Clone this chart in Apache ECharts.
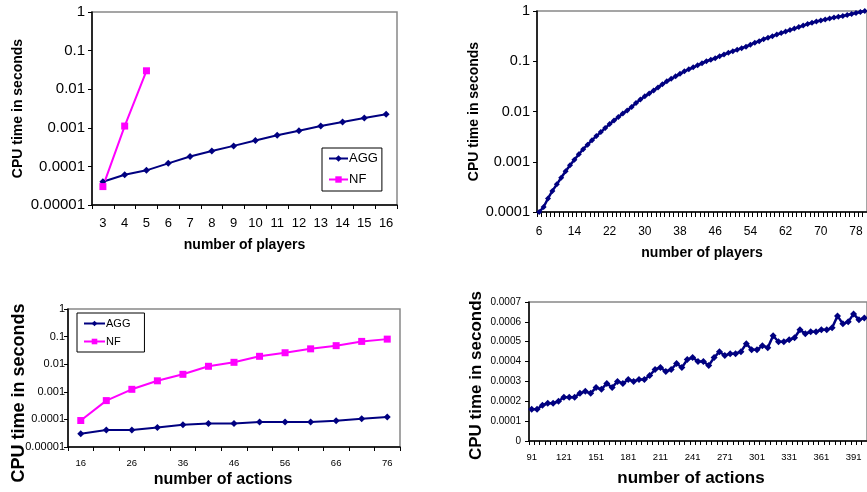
<!DOCTYPE html>
<html><head><meta charset="utf-8">
<script src="https://cdn.jsdelivr.net/npm/echarts@6/dist/echarts.min.js"></script>
<style>html,body{margin:0;padding:0;background:#fff}#c{width:867px;height:492px}</style>
</head><body><div id="c"></div>
<script>
// Panel 1: number of players (small)
const players1 = ['3','4','5','6','7','8','9','10','11','12','13','14','15','16'];
const agg1 = [0.00004,0.000061,0.000079,0.00012,0.00018,0.00025,0.00034,0.00047,0.00064,0.00084,0.00111,0.00141,0.00179,0.00224];
const nf1 = [0.00003,0.00111,0.03,null,null,null,null,null,null,null,null,null,null,null];

// Panel 2: number of players (large)
const players2 = ['6','7','8','9','10','11','12','13','14','15','16','17','18','19','20','21','22','23','24','25','26','27','28','29','30','31','32','33','34','35','36','37','38','39','40','41','42','43','44','45','46','47','48','49','50','51','52','53','54','55','56','57','58','59','60','61','62','63','64','65','66','67','68','69','70','71','72','73','74','75','76','77','78','79','80'];
const agg2 = [0.0001,0.000126,0.000186,0.000263,0.000355,0.000479,0.000646,0.000851,0.0011,0.00141,0.00178,0.00219,0.00269,0.00324,0.00389,0.00468,0.00562,0.00661,0.00776,0.00912,0.0105,0.0123,0.0148,0.0174,0.02,0.0229,0.0263,0.0302,0.0347,0.0398,0.0447,0.0501,0.0562,0.0631,0.0692,0.0759,0.0832,0.0912,0.1,0.107,0.115,0.126,0.136,0.148,0.158,0.17,0.182,0.195,0.214,0.234,0.251,0.275,0.295,0.316,0.339,0.363,0.389,0.417,0.447,0.479,0.513,0.55,0.582,0.617,0.646,0.676,0.708,0.741,0.767,0.794,0.832,0.871,0.912,0.955,1.0];

// Panel 3: number of actions (small)
const actions3 = ['16','21','26','31','36','41','46','51','56','61','66','71','76'];
const agg3 = [0.00003,0.000041,0.000041,0.000051,0.000064,0.000071,0.000071,0.00008,0.00008,0.00008,0.000089,0.000105,0.000123];
const nf3 = [0.000091,0.00048,0.00123,0.0025,0.0043,0.0084,0.0117,0.0193,0.026,0.036,0.047,0.067,0.081];

// Panel 4: number of actions (large)
const actions4 = ['91','96','101','106','111','116','121','126','131','136','141','146','151','156','161','166','171','176','181','186','191','196','201','206','211','216','221','226','231','236','241','246','251','256','261','266','271','276','281','286','291','296','301','306','311','316','321','326','331','336','341','346','351','356','361','366','371','376','381','386','391','396','401'];
const agg4 = [0.00016,0.00016,0.00018,0.00019,0.00019,0.0002,0.00022,0.00022,0.00022,0.00024,0.00025,0.00024,0.00027,0.00026,0.00029,0.00027,0.0003,0.00029,0.00031,0.0003,0.00031,0.00031,0.00033,0.00036,0.00037,0.00035,0.00036,0.00039,0.00037,0.00041,0.00042,0.0004,0.0004,0.00038,0.00042,0.00045,0.00043,0.00044,0.00044,0.00045,0.00049,0.00046,0.00046,0.00048,0.00047,0.00053,0.0005,0.0005,0.00051,0.00052,0.00056,0.00054,0.00055,0.00055,0.00056,0.00056,0.00057,0.00063,0.00059,0.0006,0.00064,0.00061,0.00062];

const FONT = '"Liberation Sans", Arial, sans-serif';
const NAVY = '#000080', MAG = '#FF00FF';
const logFmt = v => String(Number(Number(v).toPrecision(1)));

function xAx(gi, data, o) {
  return {
    type: 'category', gridIndex: gi, data: data, boundaryGap: true,
    name: o.name, nameLocation: 'middle', nameGap: o.nameGap, nameMoveOverlap: false,
    nameTextStyle: Object.assign({fontFamily: FONT, fontWeight: 'bold', fontSize: o.nameSize, color: '#000'}, o.nameStyle || {}),
    axisLine: {lineStyle: {color: '#000', width: 1.5}},
    axisTick: {show: true, interval: o.tickInterval, length: o.tickLen || 4, lineStyle: {color: '#000', width: 1}},
    axisLabel: {interval: o.labelInterval, fontFamily: FONT, fontSize: o.labelSize, color: '#000', margin: o.labelMargin || 6},
    splitLine: {show: false}
  };
}
function yAx(gi, o) {
  return Object.assign({
    gridIndex: gi,
    name: o.name, nameLocation: 'middle', nameGap: o.nameGap, nameMoveOverlap: false,
    nameTextStyle: Object.assign({fontFamily: FONT, fontWeight: 'bold', fontSize: o.nameSize, color: '#000'}, o.nameStyle || {}),
    axisLine: {show: true, lineStyle: {color: '#000', width: 1.5}},
    axisTick: {show: true, length: 4, lineStyle: {color: '#000', width: 1}},
    axisLabel: {fontFamily: FONT, fontSize: o.labelSize, color: '#000', margin: o.labelMargin, formatter: o.fmt},
    splitLine: {show: false}
  }, o.extra);
}

const gridStyle = {show: true, borderColor: '#888', borderWidth: 1.5, backgroundColor: 'transparent', containLabel: false};

const option = {
  animation: false,
  backgroundColor: '#fff',
  grid: [
    Object.assign({left: 92, top: 12, width: 305, height: 193}, gridStyle),
    Object.assign({left: 537, top: 11, width: 335, height: 201}, gridStyle),
    Object.assign({left: 68, top: 309, width: 332, height: 138}, gridStyle),
    Object.assign({left: 529, top: 302, width: 344, height: 139}, gridStyle)
  ],
  legend: [
    {
      data: ['AGG', 'NF'], orient: 'vertical', left: 322, top: 148,
      padding: [4, 4, 5, 6], itemGap: 8, itemWidth: 19, itemHeight: 8,
      borderColor: '#000', borderWidth: 1, backgroundColor: '#fff',
      textStyle: {fontFamily: FONT, fontSize: 13, color: '#000', padding: [0, 0, 0, -4]}
    },
    {
      data: ['AGG', 'NF'], orient: 'vertical', left: 77, top: 313,
      padding: [5, 14, 5, 6], itemGap: 7, itemWidth: 21, itemHeight: 7,
      borderColor: '#000', borderWidth: 1, backgroundColor: '#fff',
      textStyle: {fontFamily: FONT, fontSize: 11, color: '#000', padding: [0, 0, 0, -4]}
    }
  ],
  xAxis: [
    xAx(0, players1, {name: 'number of players', nameGap: 33, nameSize: 14, labelSize: 13, tickInterval: 0, labelInterval: 0, labelMargin: 12}),
    xAx(1, players2, {name: 'number of players', nameGap: 34, nameSize: 14, labelSize: 12, tickInterval: 0, labelInterval: 7, tickLen: 5, labelMargin: 14}),
    xAx(2, actions3, {name: 'number of actions', nameGap: 25, nameSize: 16, labelSize: 9.5, tickInterval: 0, labelInterval: 1, labelMargin: 11,
      nameStyle: {padding: [0, 22, 0, 0]}}),
    xAx(3, actions4, {name: 'number of actions', nameGap: 29, nameSize: 17, labelSize: 9.5, tickInterval: 0, labelInterval: 5, labelMargin: 11,
      nameStyle: {padding: [0, 14, 0, 0]}})
  ],
  yAxis: [
    yAx(0, {name: 'CPU time in seconds', nameGap: 67, nameSize: 14, labelSize: 15, labelMargin: 7, fmt: logFmt,
      extra: {type: 'log', logBase: 10, min: 0.00001, max: 1, splitNumber: 5}}),
    yAx(1, {name: 'CPU time in seconds', nameGap: 56, nameSize: 14, labelSize: 14.5, labelMargin: 7, fmt: logFmt,
      extra: {type: 'log', logBase: 10, min: 0.0001, max: 1, splitNumber: 4}}),
    yAx(2, {name: 'CPU time in seconds', nameGap: 40, nameSize: 18, labelSize: 11, labelMargin: 3, fmt: logFmt,
      nameStyle: {padding: [0, 30, 0, 0]},
      extra: {type: 'log', logBase: 10, min: 0.00001, max: 1, splitNumber: 5}}),
    yAx(3, {name: 'CPU time in seconds', nameGap: 44, nameSize: 17, labelSize: 10, labelMargin: 8,
      nameStyle: {padding: [0, 8, 0, 0]},
      fmt: v => v === 0 ? '0' : Number(v).toFixed(4),
      extra: {type: 'value', min: 0, max: 0.0007, interval: 0.0001}})
  ],
  series: [
    {name: 'AGG', type: 'line', xAxisIndex: 0, yAxisIndex: 0, data: agg1, symbol: 'diamond', symbolSize: 7,
      lineStyle: {color: NAVY, width: 2}, itemStyle: {color: NAVY}},
    {name: 'NF', type: 'line', xAxisIndex: 0, yAxisIndex: 0, data: nf1, symbol: 'rect', symbolSize: 7,
      lineStyle: {color: MAG, width: 2}, itemStyle: {color: MAG}},
    {name: 'AGG', type: 'line', xAxisIndex: 1, yAxisIndex: 1, data: agg2, symbol: 'diamond', symbolSize: 6, showAllSymbol: true,
      lineStyle: {color: NAVY, width: 2.5}, itemStyle: {color: NAVY}},
    {name: 'AGG', type: 'line', xAxisIndex: 2, yAxisIndex: 2, data: agg3, symbol: 'diamond', symbolSize: 7,
      lineStyle: {color: NAVY, width: 2}, itemStyle: {color: NAVY}},
    {name: 'NF', type: 'line', xAxisIndex: 2, yAxisIndex: 2, data: nf3, symbol: 'rect', symbolSize: 7,
      lineStyle: {color: MAG, width: 2}, itemStyle: {color: MAG}},
    {name: 'AGG', type: 'line', xAxisIndex: 3, yAxisIndex: 3, data: agg4, symbol: 'diamond', symbolSize: 7, showAllSymbol: true,
      lineStyle: {color: NAVY, width: 2.5}, itemStyle: {color: NAVY}}
  ]
};
const chart = echarts.init(document.getElementById('c'), null, {renderer: 'canvas'});
chart.setOption(option);
</script>
</body></html>
